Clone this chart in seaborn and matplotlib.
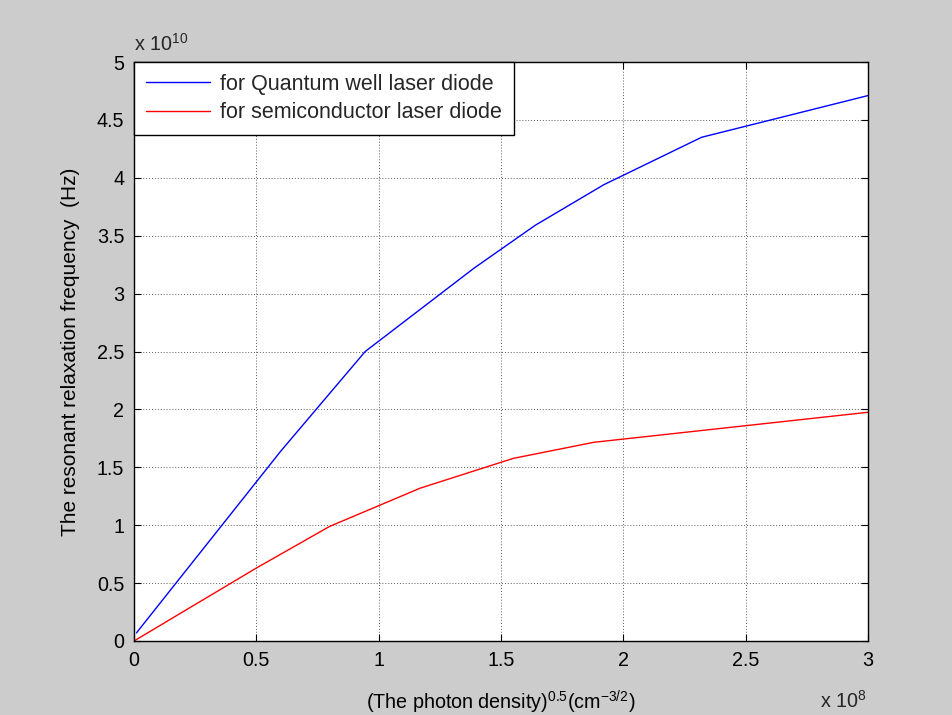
import matplotlib
matplotlib.use("Agg")
import matplotlib.pyplot as plt
import seaborn as sns
import pandas as pd

# Data (x in units of 1e8, y in units of 1e10)
qw_x = [0.01, 0.60, 0.945, 1.39, 1.64, 1.92, 2.32, 3.00]
qw_y = [0.07, 1.64, 2.50, 3.22, 3.59, 3.94, 4.35, 4.71]
sc_x = [0.00, 0.50, 0.80, 1.17, 1.55, 1.88, 3.00]
sc_y = [0.00, 0.63, 0.99, 1.32, 1.577, 1.716, 1.975]
series_names = ["for Quantum well laser diode", "for semiconductor laser diode"]
x_ticks = [0, 0.5, 1, 1.5, 2, 2.5, 3]
y_ticks = [0, 0.5, 1, 1.5, 2, 2.5, 3, 3.5, 4, 4.5, 5]

df = pd.DataFrame({
    "x": qw_x + sc_x,
    "y": qw_y + sc_y,
    "series": [series_names[0]] * len(qw_x) + [series_names[1]] * len(sc_x),
})

sns.set_theme(style="white")
plt.rcParams["font.family"] = ["Liberation Sans", "DejaVu Sans"]
plt.rcParams["mathtext.fontset"] = "custom"
plt.rcParams["mathtext.rm"] = "Liberation Sans"
plt.rcParams["mathtext.it"] = "Liberation Sans"

FS = 14.2

fig = plt.figure(figsize=(9.52, 7.15), dpi=100, facecolor="#cccccc")
ax = fig.add_axes([134 / 952, 74 / 715, 734 / 952, 579 / 715])
ax.set_facecolor("white")

sns.lineplot(data=df, x="x", y="y", hue="series", hue_order=series_names,
             palette={series_names[0]: "#0000ff", series_names[1]: "#ff0000"},
             estimator=None, sort=False, linewidth=1.0, ax=ax)

ax.set_xlim(0, 3)
ax.set_ylim(0, 5)
ax.set_xticks(x_ticks)
ax.set_yticks(y_ticks)
ax.set_xticklabels([f"{t:g}" for t in x_ticks])
ax.set_yticklabels([f"{t:g}" for t in y_ticks])
ax.tick_params(axis="both", direction="in", length=5, width=0.8, color="black",
               labelsize=FS, labelcolor="black", top=True, right=True,
               bottom=True, left=True, pad=7)
ax.grid(True, color="#333333", linestyle=(0, (1, 2)), linewidth=0.7, alpha=0.8)
for s in ax.spines.values():
    s.set_color("black")
    s.set_linewidth(1.0)

ax.set_xlabel(r"(The photon density)$^{0.5}$(cm$^{-3/2}$)", fontsize=FS,
              color="black", labelpad=14)
ax.set_ylabel("The resonant relaxation frequency  (Hz)", fontsize=FS + 0.8,
              color="black", labelpad=12)

ax.text(0.0, 1.012, r"x 10$^{10}$", transform=ax.transAxes, fontsize=FS,
        ha="left", va="bottom")
ax.text(0.998, -0.085, r"x 10$^{8}$", transform=ax.transAxes, fontsize=FS,
        ha="right", va="top")

leg = ax.legend(loc="upper left", bbox_to_anchor=(0, 1), borderaxespad=0,
                frameon=True, fancybox=False, fontsize=15.5, handlelength=3.0,
                handletextpad=0.45, borderpad=0.55, labelspacing=0.35)
leg.get_frame().set_edgecolor("black")
leg.get_frame().set_linewidth(1.0)
leg.get_frame().set_alpha(1)

fig.savefig("out.png", dpi=100, facecolor=fig.get_facecolor())
